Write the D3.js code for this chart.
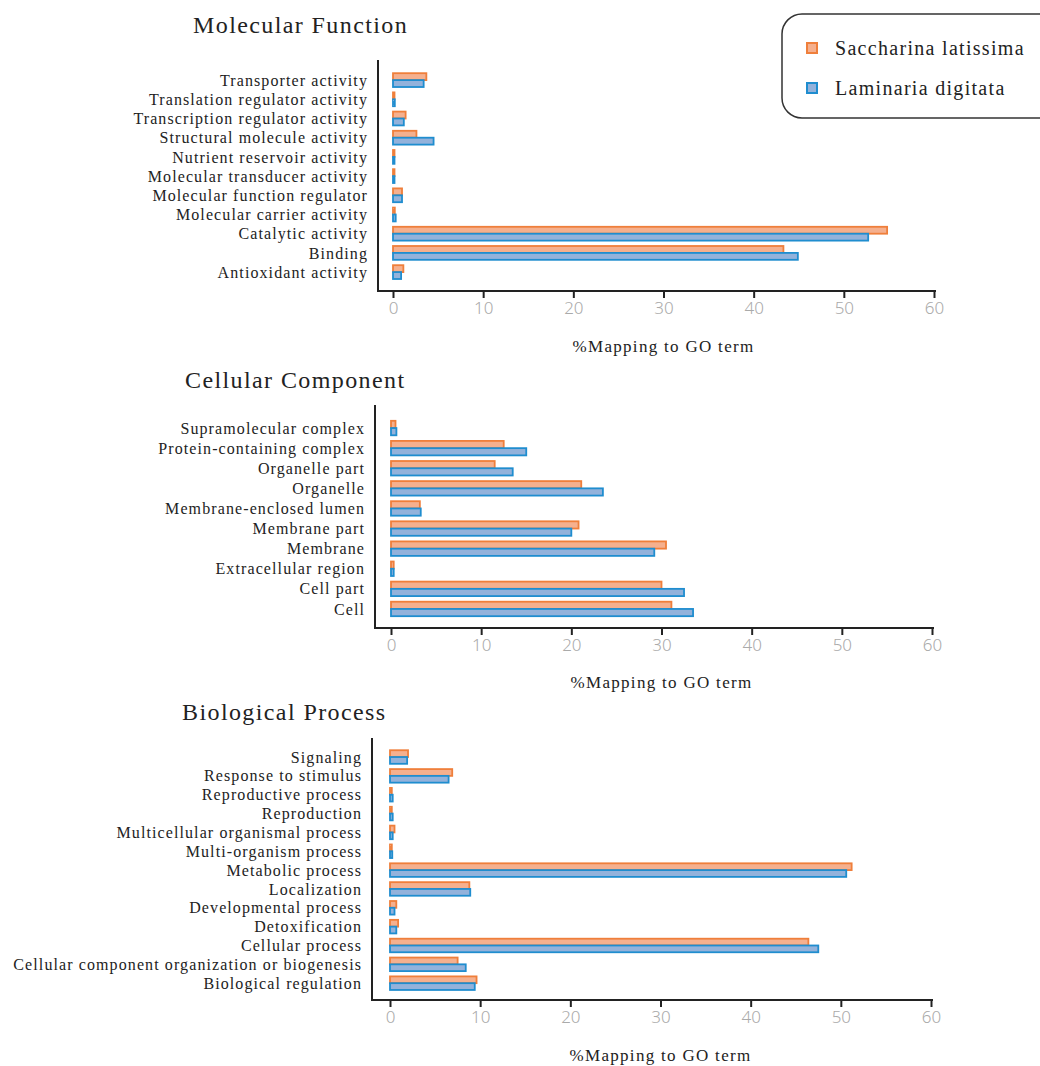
<!DOCTYPE html>
<html>
<head>
<meta charset="utf-8">
<script src="https://cdn.jsdelivr.net/npm/d3@7"></script>
<style>
  body { margin: 0; background: #fff; }
  svg { display: block; }
</style>
</head>
<body>
<svg id="chart" width="1040" height="1066"></svg>
<script>
(function () {
    'use strict';

    var seriesNames = ["Saccharina latissima", "Laminaria digitata"];
    var xTicks = [0, 10, 20, 30, 40, 50, 60];

    var mfTerms = ["Transporter activity", "Translation regulator activity", "Transcription regulator activity",
        "Structural molecule activity", "Nutrient reservoir activity", "Molecular transducer activity",
        "Molecular function regulator", "Molecular carrier activity", "Catalytic activity", "Binding",
        "Antioxidant activity"];
    var mfSaccharina = [3.7, 0.1, 1.4, 2.6, 0.15, 0.15, 1.0, 0.2, 54.8, 43.3, 1.15];
    var mfLaminaria = [3.4, 0.2, 1.2, 4.5, 0.15, 0.15, 1.0, 0.3, 52.7, 44.9, 0.9];

    var ccTerms = ["Supramolecular complex", "Protein-containing complex", "Organelle part", "Organelle",
        "Membrane-enclosed lumen", "Membrane part", "Membrane", "Extracellular region", "Cell part", "Cell"];
    var ccSaccharina = [0.5, 12.5, 11.5, 21.1, 3.2, 20.8, 30.5, 0.3, 30.0, 31.1];
    var ccLaminaria = [0.6, 15.0, 13.5, 23.5, 3.3, 20.0, 29.2, 0.3, 32.5, 33.5];

    var bpTerms = ["Signaling", "Response to stimulus", "Reproductive process", "Reproduction",
        "Multicellular organismal process", "Multi-organism process", "Metabolic process", "Localization",
        "Developmental process", "Detoxification", "Cellular process",
        "Cellular component organization or biogenesis", "Biological regulation"];
    var bpSaccharina = [2.0, 6.9, 0.2, 0.2, 0.5, 0.2, 51.2, 8.8, 0.7, 0.9, 46.4, 7.5, 9.6];
    var bpLaminaria = [1.9, 6.5, 0.3, 0.3, 0.3, 0.25, 50.6, 8.9, 0.5, 0.7, 47.5, 8.4, 9.4];

    var strokeCol = ["#ef7f3b", "#1f8dcf"];
    var fillCol = ["#f5b08e", "#93b2db"];
    var serif = "'Liberation Serif', 'DejaVu Serif', serif";

    var svg = d3.select("#chart");

    var panels = [
        { title: "Molecular Function", titleX: 193, titleY: 33, terms: mfTerms, vals: [mfSaccharina, mfLaminaria],
          axisX: 378, x0: 393, x1: 934, top: 60, bottom: 291, band: [70.5, 281.7], labelX: 368, axisTitleY: 352 },
        { title: "Cellular Component", titleX: 185, titleY: 388, terms: ccTerms, vals: [ccSaccharina, ccLaminaria],
          axisX: 375, x0: 391, x1: 932, top: 405, bottom: 628, band: [418, 619], labelX: 365, axisTitleY: 688 },
        { title: "Biological Process", titleX: 182, titleY: 720, terms: bpTerms, vals: [bpSaccharina, bpLaminaria],
          axisX: 372, x0: 390, x1: 931, top: 738, bottom: 1000, band: [747.6, 992.6], labelX: 362, axisTitleY: 1061 }
    ];

    panels.forEach(function (p) {
        var g = svg.append("g");
        var x = d3.scaleLinear().domain([0, 60]).range([p.x0, p.x1]);
        var y = d3.scaleBand().domain(p.terms).range(p.band).paddingInner(0.28).paddingOuter(0.14);
        var sub = d3.scaleBand().domain([0, 1]).range([0, y.bandwidth()]);

        g.append("text")
            .attr("x", p.titleX)
            .attr("y", p.titleY)
            .style("font-family", serif)
            .style("font-size", "24px")
            .style("letter-spacing", "1.4px")
            .style("fill", "#222")
            .text(p.title);

        // bars
        p.vals.forEach(function (vals, s) {
            g.selectAll(".bar" + s)
                .data(p.terms)
                .enter()
                .append("rect")
                .attr("x", x(0))
                .attr("y", function (d) { return y(d) + sub(s); })
                .attr("width", function (d, i) { return Math.max(x(vals[i]) - x(0), 1.5); })
                .attr("height", sub.bandwidth())
                .style("fill", fillCol[s])
                .style("stroke", strokeCol[s])
                .style("stroke-width", "1.8px");
        });

        // category labels
        g.selectAll(".lab")
            .data(p.terms)
            .enter()
            .append("text")
            .attr("x", p.labelX)
            .attr("y", function (d) { return y(d) + y.bandwidth() / 2; })
            .attr("dy", "0.35em")
            .attr("text-anchor", "end")
            .style("font-family", serif)
            .style("font-size", "16px")
            .style("letter-spacing", "1.1px")
            .style("fill", "#222")
            .text(function (d) { return d; });

        // axes
        g.append("line")
            .attr("x1", p.axisX).attr("x2", p.axisX)
            .attr("y1", p.top).attr("y2", p.bottom)
            .style("stroke", "#222").style("stroke-width", "2px");

        var xAxis = g.append("g")
            .attr("transform", "translate(0," + p.bottom + ")")
            .call(d3.axisBottom(x).tickValues(xTicks).tickSize(7).tickSizeOuter(0).tickPadding(4));
        xAxis.select(".domain").remove();
        xAxis.append("line")
            .attr("x1", p.axisX - 1).attr("x2", p.x1 + 2)
            .attr("y1", 0).attr("y2", 0)
            .style("stroke", "#222").style("stroke-width", "2px");
        xAxis.selectAll(".tick line").style("stroke", "#222").style("stroke-width", "2px");
        xAxis.selectAll(".tick text")
            .style("font-family", "'Noto Sans', sans-serif")
            .style("font-size", "17px")
            .style("font-weight", "300")
            .style("fill", "#aaa");

        g.append("text")
            .attr("x", (p.x0 + p.x1) / 2)
            .attr("y", p.axisTitleY)
            .attr("text-anchor", "middle")
            .style("font-family", serif)
            .style("font-size", "17px")
            .style("letter-spacing", "1.3px")
            .style("fill", "#222")
            .text("%Mapping to GO term");
    });

    // legend
    var lg = svg.append("g");
    lg.append("rect")
        .attr("x", 782).attr("y", 14)
        .attr("width", 290).attr("height", 104)
        .attr("rx", 20).attr("ry", 20)
        .style("fill", "#fff").style("stroke", "#333").style("stroke-width", "1.5px");
    seriesNames.forEach(function (name, i) {
        lg.append("rect")
            .attr("x", 807).attr("y", 43 + i * 40)
            .attr("width", 10).attr("height", 10)
            .style("fill", fillCol[i]).style("stroke", strokeCol[i]).style("stroke-width", "2px");
        lg.append("text")
            .attr("x", 835).attr("y", 48 + i * 40)
            .attr("dy", "0.35em")
            .style("font-family", serif)
            .style("font-size", "20px")
            .style("letter-spacing", "1.3px")
            .style("fill", "#222")
            .text(name);
    });
}());
</script>
</body>
</html>
